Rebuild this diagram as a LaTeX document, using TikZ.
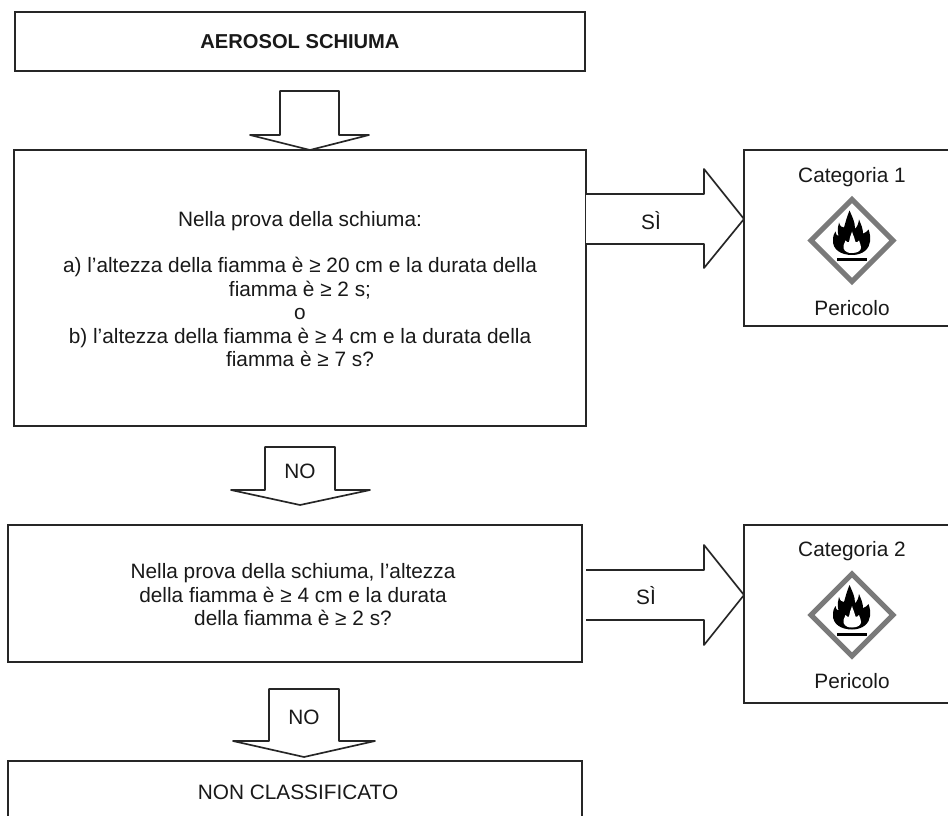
\documentclass[tikz,border=0pt]{standalone}
\usepackage{fontspec}
\setmainfont{Liberation Sans}
\tikzset{
  x=0.75pt,y=-0.75pt,
  boxshape/.style={draw=black!85,line width=1.25pt,fill=white},
  blockarrow/.style={draw=black!85,line width=1.25pt,line join=round,fill=white},
  txt/.style={font=\fontsize{15.6pt}{17.6pt}\selectfont,align=center,inner sep=0pt,text=black!90},
  hazframe/.style={draw=black!52,line width=3.8pt,fill=white,line join=miter}
}
\newcommand{\hazard}[2]{%
  \begin{scope}[shift={(#1,#2)}]
    \draw[hazframe] (-41,0)--(0,-41)--(41,0)--(0,41)--cycle;
    \fill[black] (0,14.5) .. controls (-11,14.5) and (-19.5,9) .. (-19,0)
      .. controls (-19,-5) and (-18,-7) .. (-16.5,-9)
      .. controls (-16.5,-6) and (-15,-5) .. (-13.5,-4.5)
      .. controls (-15,-11) and (-14,-14) .. (-13,-18)
      .. controls (-12,-14) and (-10,-13) .. (-8,-13)
      .. controls (-6,-20) and (-5,-24) .. (-2.5,-30)
      .. controls (0,-24) and (3,-19) .. (3,-12)
      .. controls (5,-13) and (6.5,-17) .. (7,-21)
      .. controls (9,-16) and (11,-12) .. (11,-7)
      .. controls (13,-7.5) and (15,-9) .. (16.5,-11)
      .. controls (18,-7) and (18.5,-3) .. (18,1)
      .. controls (17.5,8) and (11,14.5) .. (0,14.5) -- cycle;
    \fill[white] (0,12.5) .. controls (-7,12.5) and (-9,9) .. (-8.5,5)
      .. controls (-8,3) and (-7,2) .. (-6.5,0)
      .. controls (-5,2) and (-4,2) .. (-3,1.5)
      .. controls (-3,-2) and (-1,-5) .. (0,-9)
      .. controls (1,-5) and (3,-2) .. (3.5,1.5)
      .. controls (4.5,2) and (5.5,2) .. (7,0)
      .. controls (8,3) and (9,5) .. (9,7)
      .. controls (9,10) and (6,12.5) .. (0,12.5) -- cycle;
    \fill[black] (-15,17.5) rectangle (15,20.5);
  \end{scope}}
\begin{document}
\begin{tikzpicture}
\useasboundingbox (0,0) rectangle (948,816);
\clip (0,0) rectangle (948,816);
\fill[white] (0,0) rectangle (948,816);
% boxes
\draw[boxshape] (15,12) rectangle (585,71);
\node[txt,font=\fontsize{15.1pt}{17.6pt}\selectfont\bfseries] (top) at (300,42) {AEROSOL SCHIUMA};
\draw[boxshape] (14,150) rectangle (586,426);
\node[txt] (q1) at (300,289) {Nella prova della schiuma:\\[17.6pt]
a) l’altezza della fiamma è ≥ 20 cm e la durata della\\fiamma è ≥ 2 s;\\o\\
b) l’altezza della fiamma è ≥ 4 cm e la durata della\\fiamma è ≥ 7 s?};
\draw[boxshape] (8,525) rectangle (582,662);
\node[txt] (q2) at (293,595) {Nella prova della schiuma, l’altezza\\della fiamma è ≥ 4 cm e la durata\\della fiamma è ≥ 2 s?};
\draw[boxshape] (8,761) rectangle (582,840);
\node[txt] (nc) at (298,792) {NON CLASSIFICATO};
\draw[boxshape] (744,150) rectangle (970,326);
\draw[boxshape] (744,525) rectangle (970,703);
% category contents
\node[txt] (c1) at (852,177) {Categoria 1};
\hazard{852}{240.5}
\node[txt] (p1) at (852,308) {Pericolo};
\node[txt] (c2) at (852,551) {Categoria 2};
\hazard{852}{615}
\node[txt] (p2) at (852,681) {Pericolo};
% block arrows
\draw[blockarrow] (280,91)--(339,91)--(339,135)--(369,135)--(310,150)--(250,135)--(280,135)--cycle;
\draw[blockarrow] (265,447)--(335,447)--(335,490)--(370,490)--(300,505)--(231,490)--(265,490)--cycle;
\node[txt] (no1) at (300,471) {NO};
\draw[blockarrow] (269,689)--(339,689)--(339,741)--(375,741)--(304,757)--(233,741)--(269,741)--cycle;
\node[txt] (no2) at (304,717) {NO};
\draw[blockarrow] (586,194)--(704,194)--(704,169)--(744,219)--(704,268)--(704,244)--(586,244);
\node[txt] (si1) at (651,221) {SÌ};
\draw[blockarrow] (586,570)--(704,570)--(704,545)--(744,595)--(704,645)--(704,620)--(586,620);
\node[txt] (si2) at (646,596) {SÌ};
\end{tikzpicture}
\end{document}
